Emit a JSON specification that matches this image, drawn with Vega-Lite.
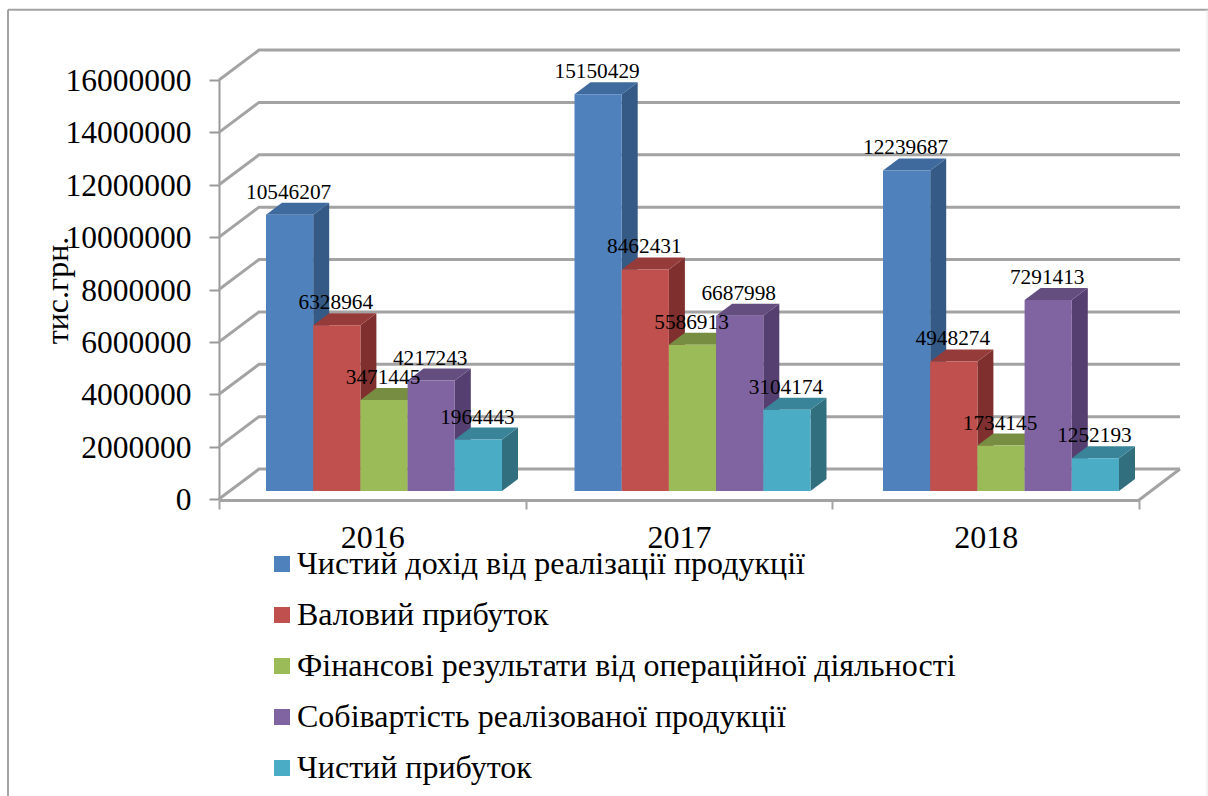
{
"$schema":"https://vega.github.io/schema/vega-lite/v6.json",
"width":920,"height":419,
"autosize":{"type":"none"},
"padding":{"left":219,"top":80,"right":69,"bottom":297},
"background":"white",
"config":{"view":{"stroke":null},"font":"Liberation Serif"},
"datasets":{
"ticks":[{"tick":0},{"tick":2000000},{"tick":4000000},{"tick":6000000},{"tick":8000000},{"tick":10000000},{"tick":12000000},{"tick":14000000},{"tick":16000000}]
},
"data":{"values":[
{"year":"2016","series":"Чистий дохід від реалізації продукції","value":10546207},
{"year":"2016","series":"Валовий прибуток","value":6328964},
{"year":"2016","series":"Фінансові результати від операційної діяльності","value":3471445},
{"year":"2016","series":"Собівартість реалізованої продукції","value":4217243},
{"year":"2016","series":"Чистий прибуток","value":1964443},
{"year":"2017","series":"Чистий дохід від реалізації продукції","value":15150429},
{"year":"2017","series":"Валовий прибуток","value":8462431},
{"year":"2017","series":"Фінансові результати від операційної діяльності","value":5586913},
{"year":"2017","series":"Собівартість реалізованої продукції","value":6687998},
{"year":"2017","series":"Чистий прибуток","value":3104174},
{"year":"2018","series":"Чистий дохід від реалізації продукції","value":12239687},
{"year":"2018","series":"Валовий прибуток","value":4948274},
{"year":"2018","series":"Фінансові результати від операційної діяльності","value":1734145},
{"year":"2018","series":"Собівартість реалізованої продукції","value":7291413},
{"year":"2018","series":"Чистий прибуток","value":1252193}
]},
"transform":[
{"calculate":"indexof(['2016','2017','2018'],datum.year)","as":"k"},
{"calculate":"indexof(['Чистий дохід від реалізації продукції','Валовий прибуток','Фінансові результати від операційної діяльності','Собівартість реалізованої продукції','Чистий прибуток'],datum.series)","as":"s"},
{"calculate":"47+308.5*datum.k+47.2*datum.s","as":"xl"},
{"calculate":"datum.xl+47.2","as":"xr"},
{"calculate":"datum.value+305489","as":"top"},
{"calculate":"datum.year+datum.series","as":"bar"}
],
"resolve":{"scale":{"x":"independent","color":"independent"},"axis":{"y":"independent"}},
"layer":[
{"data":{"values":[{"frame":"top"}]},
 "mark":{"type":"rule","color":"#a3a3a3","strokeWidth":2,"clip":false},
 "encoding":{
  "x":{"datum":-211,"type":"quantitative","scale":{"domain":[0,920],"nice":false,"zero":false},"axis":null},
  "x2":{"datum":1000},
  "y":{"datum":18684000,"type":"quantitative","scale":{"domain":[0,16000000],"nice":false},"axis":null}
 }},
{"data":{"values":[{"frame":"left"}]},
 "mark":{"type":"rule","color":"#a3a3a3","strokeWidth":2,"clip":false},
 "encoding":{
  "x":{"datum":-211,"type":"quantitative","scale":{"domain":[0,920],"nice":false,"zero":false},"axis":null},
  "y":{"datum":18684000,"type":"quantitative","axis":null},
  "y2":{"datum":-12000000}
 }},
{"data":{"values":[{"frame":"right"}]},
 "mark":{"type":"rule","color":"#e6e6e6","strokeWidth":1,"clip":false},
 "encoding":{
  "x":{"datum":988,"type":"quantitative","scale":{"domain":[0,920],"nice":false,"zero":false},"axis":null},
  "y":{"datum":18684000,"type":"quantitative","axis":null},
  "y2":{"datum":-12000000}
 }},
{"data":{"name":"ticks"},
 "transform":[
  {"calculate":"[0,40,961]","as":"px"},{"flatten":["px"]},
  {"calculate":"datum.tick+(datum.px>0?1145585:0)","as":"wall"}
 ],
 "mark":{"type":"line","color":"#a3a3a3","strokeWidth":3,"clip":false},
 "encoding":{
  "x":{"field":"px","type":"quantitative","scale":{"domain":[0,920],"nice":false,"zero":false},"axis":null},
  "y":{"field":"wall","type":"quantitative","axis":{
    "values":[0,2000000,4000000,6000000,8000000,10000000,12000000,14000000,16000000],
    "format":"d","grid":false,"domainColor":"#999999","domainWidth":2,"tickColor":"#999999","tickWidth":2,"tickSize":10,
    "labelFont":"Liberation Serif","labelFontSize":31.5,"labelColor":"#000000","labelPadding":18,"labelOffset":1.5,
    "title":"тис.грн.","titleFont":"Liberation Serif","titleFontSize":32,"titleFontWeight":"normal","titleColor":"#000000",
    "titleX":-152,"titleY":210,"titleAnchor":"middle","titleBaseline":"alphabetic"}},
  "detail":{"field":"tick"}
 }},
{"data":{"name":"ticks"},
 "transform":[
  {"filter":"datum.tick==0"},
  {"calculate":"[920,961]","as":"px"},{"flatten":["px"]},
  {"calculate":"datum.px>920?1145585:-38186","as":"wall"}
 ],
 "mark":{"type":"line","color":"#a3a3a3","strokeWidth":3,"clip":false},
 "encoding":{
  "x":{"field":"px","type":"quantitative","scale":{"domain":[0,920],"nice":false,"zero":false},"axis":null},
  "y":{"field":"wall","type":"quantitative","axis":null}
 }},
{"mark":{"type":"rule","opacity":0},
 "encoding":{
  "x":{"field":"year","type":"nominal","scale":{"paddingInner":0,"paddingOuter":0},
   "axis":{"title":null,"labelAngle":0,"offset":1,"domainColor":"#a3a3a3","domainWidth":3,"tickColor":"#a3a3a3","tickWidth":2,"tickSize":9,"tickBand":"extent",
    "labelFont":"Liberation Serif","labelFontSize":32,"labelColor":"#000000","labelPadding":13,"grid":false}}
 }},
{"transform":[
  {"calculate":"[0,1]","as":"t"},{"flatten":["t"]},
  {"calculate":"datum.xr+16*datum.t","as":"fx"},
  {"calculate":"datum.top+458234*datum.t","as":"fy"},
  {"calculate":"305489+458234*datum.t","as":"fy2"}
 ],
 "mark":{"type":"area","orient":"vertical","clip":false,"opacity":1},
 "encoding":{
  "x":{"field":"fx","type":"quantitative","scale":{"domain":[0,920],"nice":false,"zero":false},"axis":null},
  "y":{"field":"fy","type":"quantitative","axis":null},
  "y2":{"field":"fy2"},
  "detail":{"field":"bar"},
  "color":{"field":"series","type":"nominal","legend":null,
   "scale":{"domain":["Чистий дохід від реалізації продукції","Валовий прибуток","Фінансові результати від операційної діяльності","Собівартість реалізованої продукції","Чистий прибуток"],
    "range":["#345a85","#7f302e","#5f7434","#553f70","#316f7f"]}}
 }},
{"transform":[
  {"calculate":"[0,16,47.2,63.2]","as":"t"},{"flatten":["t"]},
  {"calculate":"datum.xl+datum.t","as":"fx"},
  {"calculate":"datum.top+(datum.t>0?458234:0)","as":"fy"},
  {"calculate":"datum.top+(datum.t>50?458234:0)","as":"fy2"}
 ],
 "mark":{"type":"area","orient":"vertical","clip":false,"opacity":1},
 "encoding":{
  "x":{"field":"fx","type":"quantitative","scale":{"domain":[0,920],"nice":false,"zero":false},"axis":null},
  "y":{"field":"fy","type":"quantitative","axis":null},
  "y2":{"field":"fy2"},
  "detail":{"field":"bar"},
  "color":{"field":"series","type":"nominal","legend":null,
   "scale":{"domain":["Чистий дохід від реалізації продукції","Валовий прибуток","Фінансові результати від операційної діяльності","Собівартість реалізованої продукції","Чистий прибуток"],
    "range":["#3f6a9e","#953c3a","#768d42","#644e80","#3a8499"]}}
 }},
{"transform":[{"calculate":"305489","as":"floorY"}],
 "mark":{"type":"rect","clip":false,"opacity":1},
 "encoding":{
  "x":{"field":"xl","type":"quantitative","scale":{"domain":[0,920],"nice":false,"zero":false},"axis":null},
  "x2":{"field":"xr"},
  "y":{"field":"top","type":"quantitative","axis":null},
  "y2":{"field":"floorY"},
  "color":{"field":"series","type":"nominal",
   "scale":{"domain":["Чистий дохід від реалізації продукції","Валовий прибуток","Фінансові результати від операційної діяльності","Собівартість реалізованої продукції","Чистий прибуток"],
    "range":["#4f81bd","#c0504d","#9bbb59","#8064a2","#4bacc6"]},
   "legend":{"orient":"none","legendX":47,"legendY":468,"title":null,"direction":"vertical","columns":1,"symbolType":"square","symbolSize":256,"symbolStrokeWidth":0,"labelFont":"Liberation Serif","labelFontSize":32,"labelColor":"#000000","labelLimit":800,"labelOffset":-1,"rowPadding":19,"padding":0}}
 }},
{"transform":[
  {"calculate":"(datum.xl+datum.xr)/2-1","as":"lx"},
  {"calculate":"datum.top+840000","as":"ly"}
 ],
 "mark":{"type":"text","font":"Liberation Serif","fontSize":21.3,"color":"#000000","align":"center","baseline":"middle","clip":false},
 "encoding":{
  "x":{"field":"lx","type":"quantitative","scale":{"domain":[0,920],"nice":false,"zero":false},"axis":null},
  "y":{"field":"ly","type":"quantitative","axis":null},
  "text":{"field":"value","type":"quantitative","format":"d"}
 }}
]
}
